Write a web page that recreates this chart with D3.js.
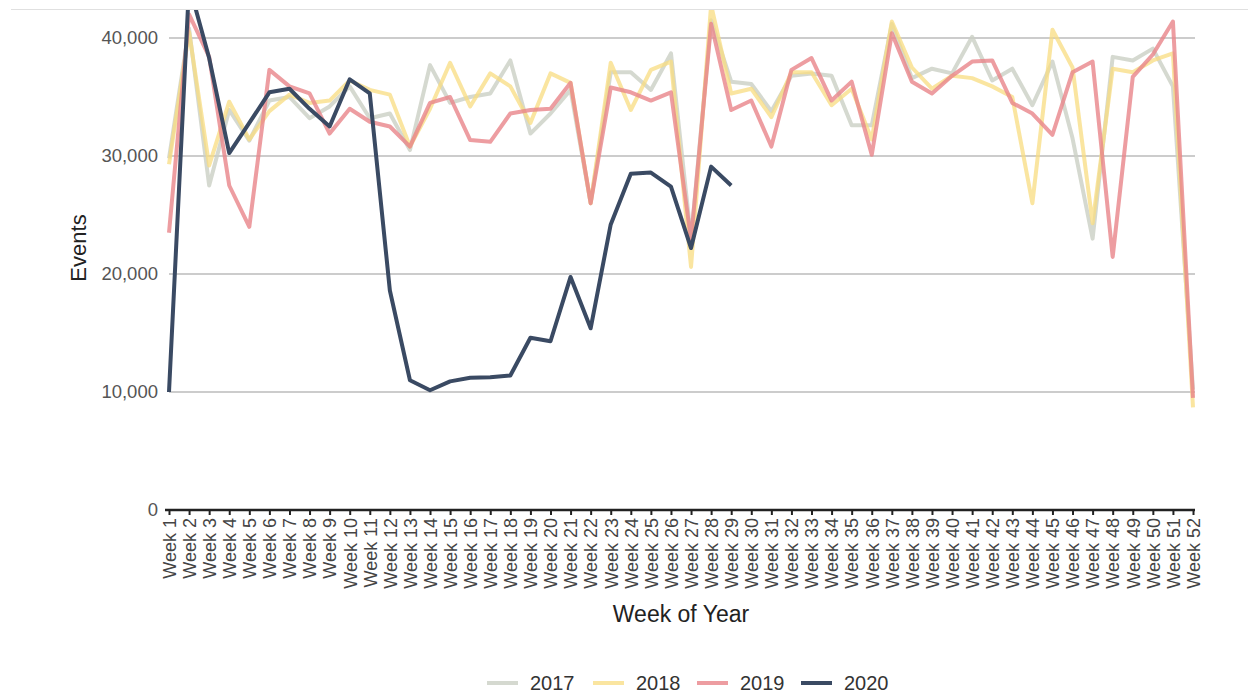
<!DOCTYPE html>
<html>
<head>
<meta charset="utf-8">
<script src="https://cdn.jsdelivr.net/npm/d3@7"></script>
<style>
  body { margin: 0; background: #fff; font-family: "Liberation Sans", Arial, sans-serif; }
</style>
</head>
<body>
<div id="chart"></div>
<script>
const width = 1248;
const height = 694;

// week labels
const weeks = d3.range(1, 53).map(function(i) { return "Week " + i; });

const years = ["2017", "2018", "2019", "2020"];
const colors = ["#cbd0c4", "#f8dc80", "#e8858a", "#3a4a63"];
const opac   = [0.8, 0.75, 0.8, 1];

const y2017 = [29800, 40800, 27500, 33900, 31300, 34700, 35000, 33200, 34200, 35900,
               33200, 33600, 30500, 37700, 34500, 35000, 35300, 38100, 31900, 33600,
               35600, 26000, 37100, 37100, 35600, 38700, 23000, 41500, 36300, 36100,
               33800, 36800, 37000, 36800, 32600, 32600, 41200, 36600, 37400, 37000,
               40100, 36400, 37400, 34300, 38000, 31500, 23000, 38400, 38100, 39100,
               35900, 10200];
const y2018 = [29300, 40500, 29200, 34600, 31400, 33800, 35200, 34500, 34700, 36400,
               35600, 35200, 30800, 34000, 37900, 34200, 37000, 35900, 32800, 37000,
               36200, 26000, 37900, 33900, 37300, 38000, 20600, 42800, 35300, 35700,
               33300, 37100, 37100, 34300, 35700, 31400, 41400, 37500, 35700, 36800,
               36600, 35900, 35000, 26000, 40700, 37500, 24300, 37400, 37100, 38100,
               38700, 8700];
const y2019 = [23500, 42000, 38400, 27500, 24000, 37300, 35900, 35300, 31900, 34000,
               32900, 32500, 30800, 34500, 35000, 31350, 31200, 33600, 33900, 34000,
               36200, 26000, 35800, 35400, 34700, 35400, 22900, 41200, 33900, 34700,
               30800, 37300, 38300, 34700, 36300, 30100, 40400, 36300, 35300, 36800,
               38000, 38100, 34500, 33600, 31800, 37100, 38000, 21450, 36700, 38600,
               41400, 9500];
const y2020 = [10000, 44500, 38300, 30250, 32800, 35400, 35700, 34000, 32500, 36500,
               35300, 18600, 11000, 10150, 10900, 11200, 11250, 11400, 14600, 14300,
               19750, 15400, 24200, 28500, 28600, 27400, 22200, 29100, 27500];

const series = [y2017, y2018, y2019, y2020];
const yTicks = [0, 10000, 20000, 30000, 40000];

const svg = d3.select("#chart").append("svg")
    .attr("width", width)
    .attr("height", height);

// thin page divider at top
svg.append("line")
    .attr("x1", 11).attr("x2", width)
    .attr("y1", 9.5).attr("y2", 9.5)
    .attr("stroke", "#e0e0e0").attr("stroke-width", 1);

const x = d3.scalePoint().domain(weeks).range([169, 1193]);
const y = d3.scaleLinear().domain([0, 40000]).range([510, 38]);

// gridlines
svg.append("g")
    .selectAll("line")
    .data(yTicks.slice(1))
    .enter().append("line")
    .attr("x1", 169).attr("x2", 1195)
    .attr("y1", function(d) { return y(d); })
    .attr("y2", function(d) { return y(d); })
    .attr("stroke", "#cccccc")
    .attr("stroke-width", 2);

// y tick labels
svg.append("g")
    .selectAll("text")
    .data(yTicks)
    .enter().append("text")
    .attr("x", 158)
    .attr("y", function(d) { return y(d); })
    .attr("dy", "0.35em")
    .attr("text-anchor", "end")
    .attr("fill", "#555")
    .style("font-size", "18.5px")
    .text(function(d) { return d3.format(",")(d); });

// clip the lines to the plot
svg.append("clipPath").attr("id", "plotclip")
    .append("rect").attr("x", 150).attr("y", 10).attr("width", 1070).attr("height", 520);

const line = d3.line()
    .x(function(d, i) { return x(weeks[i]); })
    .y(function(d) { return y(d); });

svg.append("g")
    .attr("clip-path", "url(#plotclip)")
    .selectAll("path")
    .data(series)
    .enter().append("path")
    .attr("d", line)
    .attr("fill", "none")
    .attr("stroke", function(d, i) { return colors[i]; })
    .attr("stroke-opacity", function(d, i) { return opac[i]; })
    .attr("stroke-width", 4)
    .attr("stroke-linejoin", "round");

// x axis
const xAxis = d3.axisBottom(x).tickSize(5).tickPadding(3);
const gx = svg.append("g")
    .attr("transform", "translate(0,510)")
    .call(xAxis);
gx.select(".domain")
    .attr("d", "M165,0H1195")
    .attr("stroke", "#222")
    .attr("stroke-width", 2.5);
gx.selectAll(".tick line").attr("stroke", "#222").attr("stroke-width", 2);
gx.selectAll(".tick text")
    .attr("transform", "rotate(-90)")
    .attr("x", -8)
    .attr("y", 0)
    .attr("dy", "0.35em")
    .attr("text-anchor", "end")
    .attr("fill", "#444")
    .style("font-size", "18px")
    .style("font-family", "Liberation Sans, Arial, sans-serif");

// axis titles
svg.append("text")
    .attr("x", 681).attr("y", 622)
    .attr("text-anchor", "middle")
    .attr("fill", "#222")
    .style("font-size", "23px")
    .text("Week of Year");

svg.append("text")
    .attr("transform", "translate(86,248) rotate(-90)")
    .attr("text-anchor", "middle")
    .attr("fill", "#222")
    .style("font-size", "22px")
    .text("Events");

// legend
const legendX = [487, 593, 697, 801];
const legend = svg.append("g")
    .selectAll("g")
    .data(years)
    .enter().append("g")
    .attr("transform", function(d, i) { return "translate(" + legendX[i] + ",683)"; });
legend.append("line")
    .attr("x1", 0).attr("x2", 31)
    .attr("stroke", function(d, i) { return colors[i]; })
    .attr("stroke-opacity", function(d, i) { return opac[i]; })
    .attr("stroke-width", 4);
legend.append("text")
    .attr("x", 43).attr("dy", "0.35em")
    .attr("fill", "#333")
    .style("font-size", "20px")
    .text(function(d) { return d; });
</script>
</body>
</html>
